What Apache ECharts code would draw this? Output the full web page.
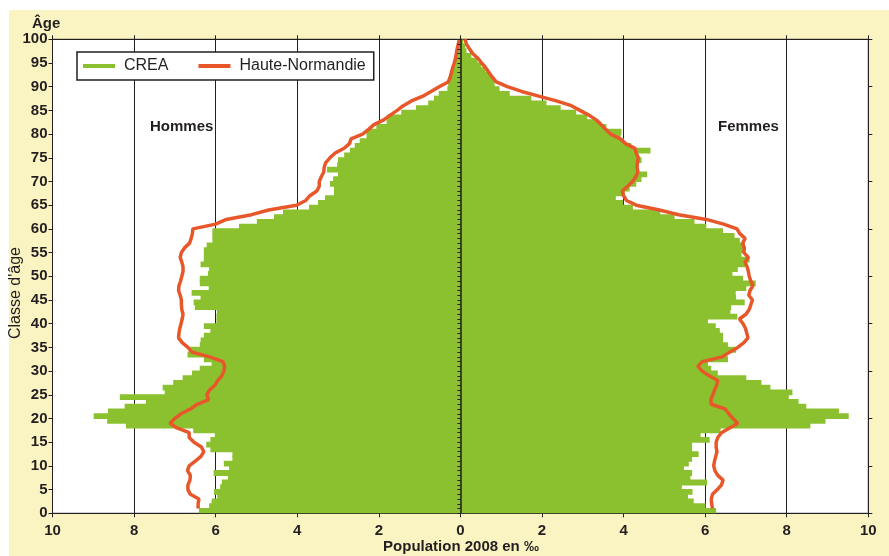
<!DOCTYPE html>
<html>
<head>
<meta charset="utf-8">
<script src="https://cdn.jsdelivr.net/npm/echarts@6/dist/echarts.min.js"></script>
<style>
html,body{margin:0;padding:0;background:#fff;}
#chart{width:889px;height:556px;}
</style>
</head>
<body>
<div id="chart"></div>
<script>
// Ages 0..99 (one bar per age)
const ages = Array.from({length: 100}, (_, i) => String(i));

// CREA, men (‰), ages 0..99
const creaMen = [
  6.41, 6.16, 6.10, 5.96, 6.04, 5.89, 5.85, 5.70, 6.05, 5.67,
  5.80, 5.59, 5.59, 6.13, 6.23, 6.13, 6.02, 6.55, 8.20, 8.66,
  8.99, 8.64, 8.23, 7.71, 8.35, 7.25, 7.30, 7.04, 6.81, 6.58,
  6.39, 6.10, 6.29, 6.69, 6.63, 6.39, 6.37, 6.29, 6.13, 6.29,
  5.98, 5.98, 5.97, 6.51, 6.54, 6.37, 6.59, 6.17, 6.39, 6.39,
  6.19, 6.16, 6.37, 6.29, 6.29, 6.29, 6.22, 6.08, 6.08, 6.08,
  5.43, 4.99, 4.57, 4.35, 3.71, 3.49, 3.32, 3.10, 3.10, 3.20,
  3.12, 3.00, 3.27, 3.02, 3.00, 2.85, 2.71, 2.59, 2.47, 2.30,
  2.30, 2.06, 1.81, 1.78, 1.45, 1.09, 0.79, 0.65, 0.53, 0.32,
  0.30, 0.30, 0.22, 0.22, 0.18, 0.11, 0.11, 0.08, 0.06, 0.05
];

// CREA, women (‰), ages 0..99
const creaWomen = [
  6.27, 6.01, 5.72, 5.58, 5.69, 5.43, 6.05, 5.64, 5.68, 5.48,
  5.60, 5.68, 5.84, 5.68, 5.68, 6.11, 5.89, 6.38, 8.58, 8.95,
  9.52, 9.28, 8.48, 8.29, 8.05, 8.14, 7.60, 7.38, 7.01, 6.31,
  6.15, 6.07, 6.56, 6.52, 6.76, 6.56, 6.44, 6.44, 6.36, 6.26,
  6.07, 6.79, 6.62, 6.64, 6.97, 6.76, 6.75, 7.01, 7.24, 6.93,
  6.67, 6.80, 6.99, 7.09, 6.89, 6.97, 6.97, 6.85, 6.72, 6.44,
  6.03, 5.74, 5.25, 4.90, 4.23, 3.99, 3.81, 4.03, 4.15, 4.31,
  4.44, 4.58, 4.38, 4.31, 4.44, 4.31, 4.66, 4.19, 4.00, 3.93,
  3.95, 3.58, 3.37, 3.11, 2.84, 2.46, 2.11, 1.74, 1.21, 0.96,
  0.84, 0.84, 0.72, 0.62, 0.51, 0.42, 0.27, 0.15, 0.12, 0.07
];

// Haute-Normandie, men (‰), ages 1..100
const hnMen = [
  6.43, 6.43, 6.41, 6.62, 6.68, 6.68, 6.63, 6.62, 6.69, 6.65,
  6.50, 6.36, 6.29, 6.35, 6.53, 6.65, 6.65, 6.95, 7.12, 7.00,
  6.85, 6.62, 6.45, 6.17, 6.22, 6.15, 6.02, 5.95, 5.85, 5.80,
  5.78, 5.82, 6.15, 6.58, 6.68, 6.82, 6.91, 6.90, 6.88, 6.85,
  6.82, 6.80, 6.83, 6.84, 6.84, 6.87, 6.91, 6.90, 6.86, 6.83,
  6.80, 6.80, 6.83, 6.87, 6.84, 6.76, 6.64, 6.60, 6.57, 6.56,
  6.00, 5.74, 5.12, 4.70, 4.02, 3.79, 3.69, 3.52, 3.46, 3.46,
  3.41, 3.35, 3.34, 3.30, 3.20, 3.07, 2.85, 2.72, 2.68, 2.40,
  2.25, 2.12, 1.88, 1.72, 1.55, 1.40, 1.20, 0.92, 0.72, 0.52,
  0.30, 0.25, 0.22, 0.19, 0.15, 0.12, 0.10, 0.08, 0.05, 0.03
];

// Haute-Normandie, women (‰), ages 1..100
const hnWomen = [
  6.18, 6.16, 6.15, 6.18, 6.30, 6.40, 6.44, 6.31, 6.24, 6.21,
  6.23, 6.26, 6.29, 6.27, 6.27, 6.31, 6.40, 6.60, 6.80, 6.68,
  6.58, 6.49, 6.15, 6.14, 6.19, 6.23, 6.28, 6.31, 6.10, 5.93,
  5.82, 5.93, 6.42, 6.60, 6.80, 6.95, 7.05, 7.02, 6.99, 6.93,
  6.84, 7.00, 7.08, 7.12, 7.16, 7.07, 7.10, 7.17, 7.12, 7.08,
  7.06, 7.03, 6.98, 7.06, 6.95, 6.96, 6.92, 6.98, 6.85, 6.78,
  6.45, 6.03, 5.35, 4.88, 4.31, 4.07, 4.00, 3.97, 4.10, 4.22,
  4.30, 4.35, 4.33, 4.34, 4.36, 4.31, 4.28, 4.05, 3.92, 3.68,
  3.56, 3.45, 3.33, 3.15, 2.93, 2.72, 2.35, 1.92, 1.50, 1.15,
  0.88, 0.78, 0.70, 0.62, 0.52, 0.43, 0.30, 0.22, 0.15, 0.11
];

const GREEN = '#8bc12f';
const ORANGE = '#e8572a';
const YELLOW = '#faf4c3';
const INK = '#231f20';
const FONT = '"Liberation Sans", Arial, sans-serif';

const chart = echarts.init(document.getElementById('chart'), null, {renderer: 'canvas'});

const menBars = creaMen.map(v => -v);
const womenBars = creaWomen.slice();
const menLine = hnMen.map((v, i) => [-v, i + 1]);
const womenLine = hnWomen.map((v, i) => [v, i + 1]);

const barStyle = {color: GREEN};

const option = {
  animation: false,
  backgroundColor: '#ffffff',
  textStyle: {fontFamily: FONT},
  graphic: [
    {type: 'rect', z: -10, silent: true, shape: {x: 9, y: 10, width: 880, height: 546}, style: {fill: YELLOW}},
    {type: 'text', left: 32, top: 16, style: {text: 'Âge', font: 'bold 15px ' + FONT, fill: INK}},
    {type: 'text', x: 16, y: 293, rotation: Math.PI / 2, style: {text: "Classe d'âge", font: '16px ' + FONT, fill: INK, align: 'center', verticalAlign: 'middle'}},
    {type: 'text', z: 20, x: 150, y: 127, style: {text: 'Hommes', font: 'bold 15px ' + FONT, fill: INK, verticalAlign: 'middle'}},
    {type: 'text', z: 20, x: 718, y: 127, style: {text: 'Femmes', font: 'bold 15px ' + FONT, fill: INK, verticalAlign: 'middle'}},
    {type: 'text', x: 461, y: 547, style: {text: 'Population 2008 en ‰', font: 'bold 15px ' + FONT, fill: INK, align: 'center', verticalAlign: 'middle'}}
  ],
  legend: {
    left: 77, top: 52,
    orient: 'horizontal',
    data: ['CREA', 'Haute-Normandie'],
    icon: 'rect',
    itemWidth: 32, itemHeight: 4,
    itemGap: 30,
    padding: [6, 8, 6, 6],
    backgroundColor: '#ffffff',
    borderColor: INK, borderWidth: 1.5,
    textStyle: {fontSize: 16, color: INK, fontFamily: FONT, padding: [0, 0, 0, 4]}
  },
  grid: {
    left: 52.5, right: 20.7, top: 39.3, bottom: 42.7,
    show: true, backgroundColor: '#ffffff', borderColor: INK, borderWidth: 1
  },
  xAxis: [
    {
      type: 'value', min: -10, max: 10, interval: 2, position: 'bottom',
      axisLine: {onZero: false, lineStyle: {color: INK, width: 1}},
      axisTick: {show: true, length: 4, lineStyle: {color: INK}},
      axisLabel: {formatter: v => String(Math.abs(v)), fontSize: 15, fontWeight: 'bold', color: INK, fontFamily: FONT, margin: 10},
      splitLine: {show: true, lineStyle: {color: INK, width: 1}}
    },
    {
      type: 'value', min: -10, max: 10, interval: 2, position: 'top',
      axisLine: {onZero: false, lineStyle: {color: INK, width: 1}},
      axisTick: {show: true, length: 4, lineStyle: {color: INK}},
      axisLabel: {show: false},
      splitLine: {show: false}
    }
  ],
  yAxis: [
    {
      type: 'category', data: ages, boundaryGap: true, show: false
    },
    {
      type: 'value', min: 0, max: 100, interval: 5, position: 'left',
      axisLine: {show: true, onZero: false, lineStyle: {color: INK}},
      axisTick: {show: true, length: 4, lineStyle: {color: INK}},
      axisLabel: {fontSize: 15, fontWeight: 'bold', color: INK, fontFamily: FONT, margin: 5},
      splitLine: {show: false}
    },
    {
      type: 'value', min: 0, max: 100, interval: 10, position: 'right',
      axisLine: {show: true, onZero: false, lineStyle: {color: INK}},
      axisTick: {show: true, length: 4, lineStyle: {color: INK}},
      axisLabel: {show: false},
      splitLine: {show: false}
    },
    {
      type: 'value', min: 0, max: 100, interval: 1, position: 'left', z: 8,
      axisLine: {show: true, onZero: true, onZeroAxisIndex: 0, lineStyle: {color: INK, width: 1.5}},
      axisTick: {show: true, length: 3, lineStyle: {color: INK}},
      axisLabel: {show: false},
      splitLine: {show: false}
    }
  ],
  series: [
    {
      name: 'CREA', type: 'bar', xAxisIndex: 0, yAxisIndex: 0,
      data: menBars, barGap: '-100%', barWidth: 5.8,
      itemStyle: barStyle, z: 2
    },
    {
      name: 'CREA', type: 'bar', xAxisIndex: 0, yAxisIndex: 0,
      data: womenBars, barGap: '-100%', barWidth: 5.8,
      itemStyle: barStyle, z: 2
    },
    {
      name: 'Haute-Normandie', type: 'line', xAxisIndex: 0, yAxisIndex: 1,
      data: menLine, showSymbol: false, symbol: 'none',
      lineStyle: {color: ORANGE, width: 3.5}, itemStyle: {color: ORANGE}, z: 4
    },
    {
      name: 'Haute-Normandie', type: 'line', xAxisIndex: 0, yAxisIndex: 1,
      data: womenLine, showSymbol: false, symbol: 'none',
      lineStyle: {color: ORANGE, width: 3.5}, itemStyle: {color: ORANGE}, z: 4
    }
  ]
};

chart.setOption(option);
</script>
</body>
</html>
